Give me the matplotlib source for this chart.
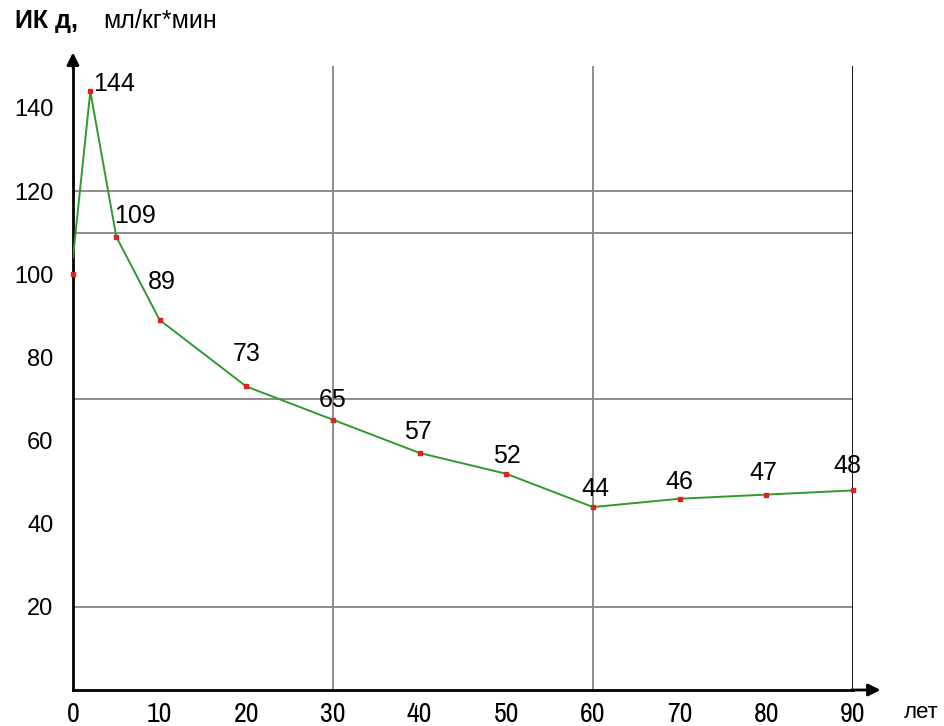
import matplotlib.pyplot as plt

# ages (years) and values
ages = [0, 2, 5, 10, 20, 30, 40, 50, 60, 70, 80, 90]
values = [100, 144, 109, 89, 73, 65, 57, 52, 44, 46, 47, 48]
line_start = 104  # the green line starts a bit above the first dot
labels = ["", "144", "109", "89", "73", "65", "57", "52", "44", "46", "47", "48"]
hgrid = [20, 70, 110, 120]
vgrid = [30, 60]
xticks = [0, 10, 20, 30, 40, 50, 60, 70, 80, 90]
yticks = [20, 40, 60, 80, 100, 120, 140]

# label offsets from the point, in pixels
label_dx = [0, 3, 19, 2, 0, 0, -2, 1, 2, 0, -3, -6]
label_dy = [0, 7, 21, 38, 32, 20, 21, 18, 18, 17, 22, 24]

plt.rcParams["font.family"] = ["Liberation Sans", "DejaVu Sans"]
narrow = ["Archivo Narrow", "Liberation Sans", "DejaVu Sans"]

fig = plt.figure(figsize=(9.44, 7.26), dpi=100)
ax = fig.add_axes([0.0773, 0.0496, 0.8263, 0.859])
ax.set_xlim(0, 90)
ax.set_ylim(0, 150)

for y in hgrid:
    ax.axhline(y, color="#858585", lw=1.3, zorder=1)
for x in vgrid:
    ax.axvline(x, color="#858585", lw=1.3, zorder=1)
ax.axvline(90, color="black", lw=2, zorder=2)

line_y = [line_start] + values[1:]
ax.plot(ages, line_y, color="#2f9a2f", lw=1.4, zorder=3)
ax.plot(ages, values, ls="none", marker="s", ms=3.5, color="#e02020", zorder=4, clip_on=False)

for a, v, t, dx, dy in zip(ages, values, labels, label_dx, label_dy):
    if not t:
        continue
    ha = "left" if t == "144" else "center"
    ax.annotate(t, (a, v), xytext=(dx, dy), textcoords="offset pixels",
                fontsize=18, ha=ha, va="center")

for s in ["top", "right"]:
    ax.spines[s].set_visible(False)
ax.spines["left"].set_linewidth(2)
ax.spines["bottom"].set_linewidth(2)

ax.set_xticks(xticks)
ax.set_yticks(yticks)
ax.tick_params(length=0, labelsize=17)
ax.tick_params(axis="y", pad=14)
ax.tick_params(axis="x", pad=9, labelsize=20)
for lab in ax.get_xticklabels():
    lab.set_fontfamily(narrow)

# axis arrows
ax.annotate("", xy=(0, 154), xytext=(0, 149), annotation_clip=False,
            arrowprops=dict(arrowstyle="-|>", color="black", lw=2, mutation_scale=18))
ax.annotate("", xy=(93.5, 0), xytext=(89.5, 0), annotation_clip=False,
            arrowprops=dict(arrowstyle="-|>", color="black", lw=2, mutation_scale=18))

fig.text(0.016, 0.971, "ИК д,", fontsize=18, fontweight="bold", va="center")
fig.text(0.109, 0.971, "мл/кг*мин", fontsize=18, va="center")
fig.text(0.958, 0.019, "лет", fontsize=16, va="center")

fig.savefig("out.png", dpi=100)
